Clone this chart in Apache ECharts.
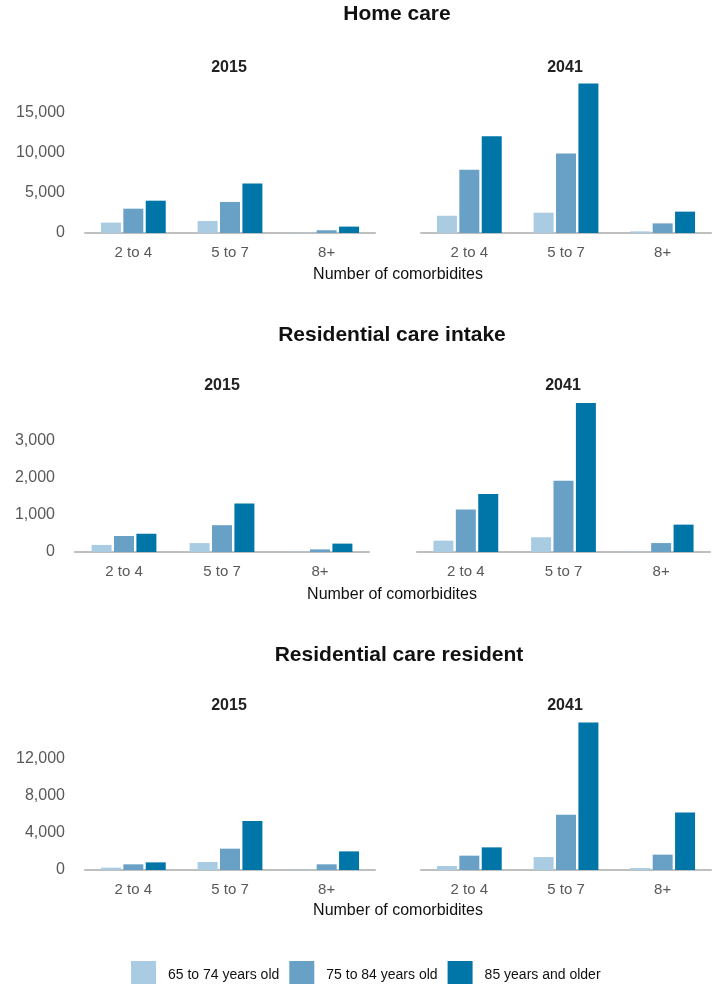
<!DOCTYPE html>
<html>
<head>
<meta charset="utf-8">
<script src="https://cdn.jsdelivr.net/npm/echarts@6/dist/echarts.min.js"></script>
<style>
  html, body { margin: 0; padding: 0; background: #fff; }
  #main { width: 712px; height: 984px; }
</style>
</head>
<body>
<div id="main"></div>
<script>
// categories and age groups
var categories = ['2 to 4', '5 to 7', '8+'];
var ageGroups = ['65 to 74 years old', '75 to 84 years old', '85 years and older'];

// each panel: one array per age group, values by category
var home2015 = [[1300, 1500, 40], [3040, 3880, 340], [4040, 6200, 800]];
var home2041 = [[2160, 2540, 200], [7900, 9950, 1200], [12080, 18700, 2670]];
var intake2015 = [[190, 240, 10], [430, 720, 70], [490, 1300, 225]];
var intake2041 = [[305, 395, 10], [1140, 1910, 240], [1560, 4000, 735]];
var resident2015 = [[250, 860, 50], [610, 2290, 610], [820, 5250, 2000]];
var resident2041 = [[430, 1390, 210], [1540, 5940, 1650], [2430, 15830, 6180]];

var colors = ['#a9cce3', '#69a1c6', '#0075a8'];
var font = "'Liberation Sans', Arial, sans-serif";

var myChart = echarts.init(document.getElementById('main'));

// rows: top/height of plot, left x of panels, y scale
var rows = [
    {title: 'Home care', tx: 397, ty: 4, yearY: 60, nameX: 398, nameY: 267,
        top: 73, height: 160, lefts: [85, 421], widths: [290, 290], max: 20000, interval: 5000,
        data: [home2015, home2041], yearX: [229, 565]},
    {title: 'Residential care intake', tx: 392, ty: 325, yearY: 378, nameX: 392, nameY: 587,
        top: 403, height: 149, lefts: [75, 417], widths: [294, 293], max: 4000, interval: 1000,
        data: [intake2015, intake2041], yearX: [222, 563]},
    {title: 'Residential care resident', tx: 399, ty: 645, yearY: 698, nameX: 398, nameY: 903,
        top: 721, height: 149, lefts: [85, 421], widths: [290, 290], max: 16000, interval: 4000,
        data: [resident2015, resident2041], yearX: [229, 565]}
];
var years = ['2015', '2041'];

var titles = [], grids = [], xAxes = [], yAxes = [], series = [];

rows.forEach(function (r, ri) {
    titles.push({
        text: r.title, left: r.tx, top: r.ty, textAlign: 'center', padding: 0,
        textStyle: {fontFamily: font, fontSize: 21, fontWeight: 'bold', color: '#111'}
    });
    titles.push({
        text: 'Number of comorbidites', left: r.nameX, top: r.nameY, textAlign: 'center', padding: 0,
        textStyle: {fontFamily: font, fontSize: 16, fontWeight: 'normal', color: '#111'}
    });
    for (var p = 0; p < 2; p++) {
        var idx = ri * 2 + p;
        titles.push({
            text: years[p], left: r.yearX[p], top: r.yearY, textAlign: 'center', padding: 0,
            textStyle: {fontFamily: font, fontSize: 16, fontWeight: 'bold', color: '#222'}
        });
        grids.push({left: r.lefts[p], width: r.widths[p], top: r.top, height: r.height});
        xAxes.push({
            type: 'category', gridIndex: idx, data: categories,
            axisTick: {show: false},
            axisLine: {lineStyle: {color: '#bfbfbf', width: 2}},
            axisLabel: {fontFamily: font, fontSize: 15, color: '#595959', margin: 12}
        });
        yAxes.push({
            type: 'value', gridIndex: idx, min: 0, max: r.max, interval: r.interval,
            splitLine: {show: false},
            axisLine: {show: false},
            axisTick: {show: false},
            axisLabel: {
                show: p === 0, showMaxLabel: false, margin: 20,
                fontFamily: font, fontSize: 16, color: '#595959',
                formatter: function (v) { return v.toLocaleString('en-US'); }
            }
        });
        r.data[p].forEach(function (vals, gi) {
            series.push({
                name: ageGroups[gi], type: 'bar',
                xAxisIndex: idx, yAxisIndex: idx,
                data: vals, barWidth: 20, barGap: '12%',
                itemStyle: {color: colors[gi]}
            });
        });
    }
});

myChart.setOption({
    backgroundColor: '#fff',
    animation: false,
    title: titles,
    legend: {
        data: ageGroups,
        left: 126, top: 956,
        itemWidth: 25, itemHeight: 28, itemGap: 10,
        icon: 'rect',
        textStyle: {fontFamily: font, fontSize: 14, color: '#111', padding: [0, 0, 0, 7]}
    },
    grid: grids,
    xAxis: xAxes,
    yAxis: yAxes,
    series: series
});
</script>
</body>
</html>
